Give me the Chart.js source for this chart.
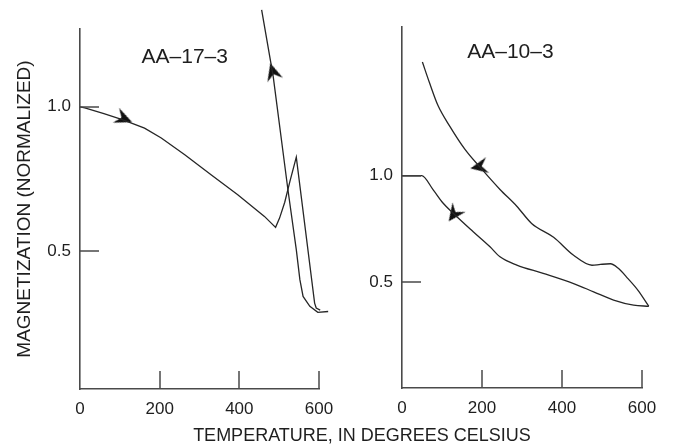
<!DOCTYPE html>
<html>
<head>
<meta charset="utf-8">
<script src="https://cdn.jsdelivr.net/npm/chart.js@4.4.1/dist/chart.umd.min.js"></script>
<style>
  html, body { margin: 0; padding: 0; background: #fff; }
  #wrap { position: relative; width: 674px; height: 446px; overflow: hidden; }
  #left { position: absolute; left: 0; top: 0; }
  #right { position: absolute; left: 340px; top: 0; }
  #xtitle {
    position: absolute; left: 162px; width: 400px; top: 425px;
    text-align: center; font: 18px "Liberation Sans", Arial, sans-serif;
    line-height: 20px; color: #1e1e1e;
  }
</style>
</head>
<body>
<div id="wrap">
  <canvas id="left" width="340" height="446"></canvas>
  <canvas id="right" width="334" height="446"></canvas>
  <div id="xtitle">TEMPERATURE, IN DEGREES CELSIUS</div>
</div>
<script>
const tempTicks = [0, 200, 400, 600];
const magTicks = [0.5, 1.0];

// AA-17-3
const a17HeatT = [0, 12, 60, 108, 162, 204, 263, 329, 396, 463, 491, 501, 514, 527, 543, 589, 593, 603, 623];
const a17HeatM = [1.0, 0.996, 0.976, 0.955, 0.926, 0.892, 0.834, 0.765, 0.696, 0.621, 0.583, 0.615, 0.67, 0.742, 0.826, 0.321, 0.304, 0.297, 0.292];
const a17CoolT = [623, 597, 577, 560, 552, 543, 522, 485, 456];
const a17CoolM = [0.292, 0.289, 0.31, 0.344, 0.402, 0.506, 0.713, 1.105, 1.335];
const a17ArrowT = [110, 484];
const a17ArrowM = [0.959, 1.121];
const a17ArrowDir = [113, -16];

// AA-10-3
const a10HeatT = [0, 49, 78, 103, 128, 178, 220, 245, 287, 353, 429, 479, 529, 579, 617];
const a10HeatM = [1.0, 1.0, 0.933, 0.87, 0.823, 0.736, 0.665, 0.618, 0.579, 0.54, 0.492, 0.453, 0.414, 0.39, 0.385];
const a10CoolT = [617, 590, 565, 540, 521, 496, 475, 429, 379, 324, 287, 245, 195, 157, 120, 90, 69, 51];
const a10CoolM = [0.385, 0.46, 0.515, 0.565, 0.585, 0.582, 0.578, 0.625, 0.71, 0.775, 0.856, 0.935, 1.04, 1.125, 1.231, 1.33, 1.436, 1.535];
const a10ArrowT = [193, 130];
const a10ArrowM = [1.042, 0.819];
const a10ArrowDir = [-101, 216];

const family = '"Liberation Sans", Arial, sans-serif';
const axisColor = '#4a4a4a';
const lineColor = '#262626';
const textColor = '#1e1e1e';

// barbed arrow head, pointing up before rotation
const dart = document.createElement('canvas');
dart.width = 18;
dart.height = 18;
(function () {
  const c = dart.getContext('2d');
  c.fillStyle = '#111';
  c.beginPath();
  c.moveTo(9, 0);
  c.lineTo(17, 17.5);
  c.lineTo(9, 11.5);
  c.lineTo(1, 17.5);
  c.closePath();
  c.fill();
})();

function pts(ts, ms) {
  return ts.map((t, i) => ({ x: t, y: ms[i] }));
}

const innerTicks = {
  id: 'innerTicks',
  afterDraw(chart, args, o) {
    const { ctx, chartArea: a, scales: { x, y } } = chart;
    ctx.save();
    ctx.strokeStyle = axisColor;
    ctx.lineWidth = 1.5;
    ctx.beginPath();
    x.ticks.forEach(t => {
      if (t.value === 0) return;
      const px = Math.round(x.getPixelForValue(t.value));
      ctx.moveTo(px, a.bottom);
      ctx.lineTo(px, a.bottom - o.len);
    });
    y.ticks.forEach(t => {
      const py = Math.round(y.getPixelForValue(t.value));
      ctx.moveTo(a.left, py);
      ctx.lineTo(a.left + o.len + 1, py);
    });
    ctx.stroke();
    ctx.restore();
  }
};

const panelLabel = {
  id: 'panelLabel',
  afterDraw(chart, args, o) {
    const { ctx, scales: { x, y } } = chart;
    ctx.save();
    ctx.font = '21px ' + family;
    ctx.fillStyle = textColor;
    ctx.textAlign = 'center';
    ctx.textBaseline = 'middle';
    ctx.fillText(o.text, x.getPixelForValue(o.t), y.getPixelForValue(o.m));
    ctx.restore();
  }
};

function panel(id, p) {
  const curveStyle = {
    borderColor: lineColor, borderWidth: 1.3, pointRadius: 0,
    cubicInterpolationMode: p.smooth ? 'monotone' : 'default', tension: 0, clip: false
  };
  return new Chart(document.getElementById(id), {
    type: 'line',
    data: {
      datasets: [
        Object.assign({ data: pts(p.heatT, p.heatM) }, curveStyle),
        Object.assign({ data: pts(p.coolT, p.coolM) }, curveStyle),
        {
          data: pts(p.arrowT, p.arrowM),
          showLine: false,
          pointStyle: dart,
          pointRadius: 8,
          pointRotation: p.arrowDir,
          clip: false
        }
      ]
    },
    options: {
      responsive: false,
      animation: false,
      events: [],
      layout: { padding: p.pad },
      plugins: {
        legend: { display: false },
        tooltip: { enabled: false },
        innerTicks: { len: 18 },
        panelLabel: { text: p.title, t: p.titleT, m: p.titleM }
      },
      scales: {
        x: {
          type: 'linear',
          min: 0,
          max: 600,
          afterBuildTicks: s => { s.ticks = tempTicks.map(v => ({ value: v })); },
          afterFit: s => { s.height = p.xHeight; s.paddingLeft = 0; s.paddingRight = 0; },
          grid: { display: false, drawTicks: false },
          border: { display: true, color: axisColor, width: 1.6 },
          ticks: {
            padding: 10, color: textColor, maxRotation: 0, autoSkip: false,
            font: { family: family, size: 17 },
            callback: v => String(v)
          }
        },
        y: {
          type: 'linear',
          min: p.yMin,
          max: p.yMax,
          afterBuildTicks: s => { s.ticks = magTicks.map(v => ({ value: v })); },
          afterFit: s => { s.width = p.yWidth; s.paddingTop = 0; s.paddingBottom = 0; },
          grid: { display: false, drawTicks: false },
          border: { display: true, color: axisColor, width: 1.6 },
          ticks: {
            padding: 9, color: textColor,
            font: { family: family, size: 17 },
            callback: v => v.toFixed(1)
          },
          title: {
            display: p.yTitle !== '',
            text: p.yTitle,
            color: textColor,
            font: { family: family, size: 19 },
            padding: { top: 3.5, bottom: 0 }
          }
        }
      }
    },
    plugins: [innerTicks, panelLabel]
  });
}

panel('left', {
  heatT: a17HeatT, heatM: a17HeatM, coolT: a17CoolT, coolM: a17CoolM,
  arrowT: a17ArrowT, arrowM: a17ArrowM, arrowDir: a17ArrowDir,
  title: 'AA–17–3', titleT: 263, titleM: 1.173,
  yMin: 0.024, yMax: 1.269,
  pad: { left: 10, top: 29, right: 21, bottom: 0 },
  yWidth: 70, xHeight: 57, smooth: false,
  yTitle: 'MAGNETIZATION (NORMALIZED)'
});

panel('right', {
  heatT: a10HeatT, heatM: a10HeatM, coolT: a10CoolT, coolM: a10CoolM,
  arrowT: a10ArrowT, arrowM: a10ArrowM, arrowDir: a10ArrowDir,
  title: 'AA–10–3', titleT: 271, titleM: 1.579,
  yMin: 0, yMax: 1.70,
  pad: { left: 0, top: 27, right: 32, bottom: 0 },
  yWidth: 62, xHeight: 58, smooth: true,
  yTitle: ''
});
</script>
</body>
</html>
